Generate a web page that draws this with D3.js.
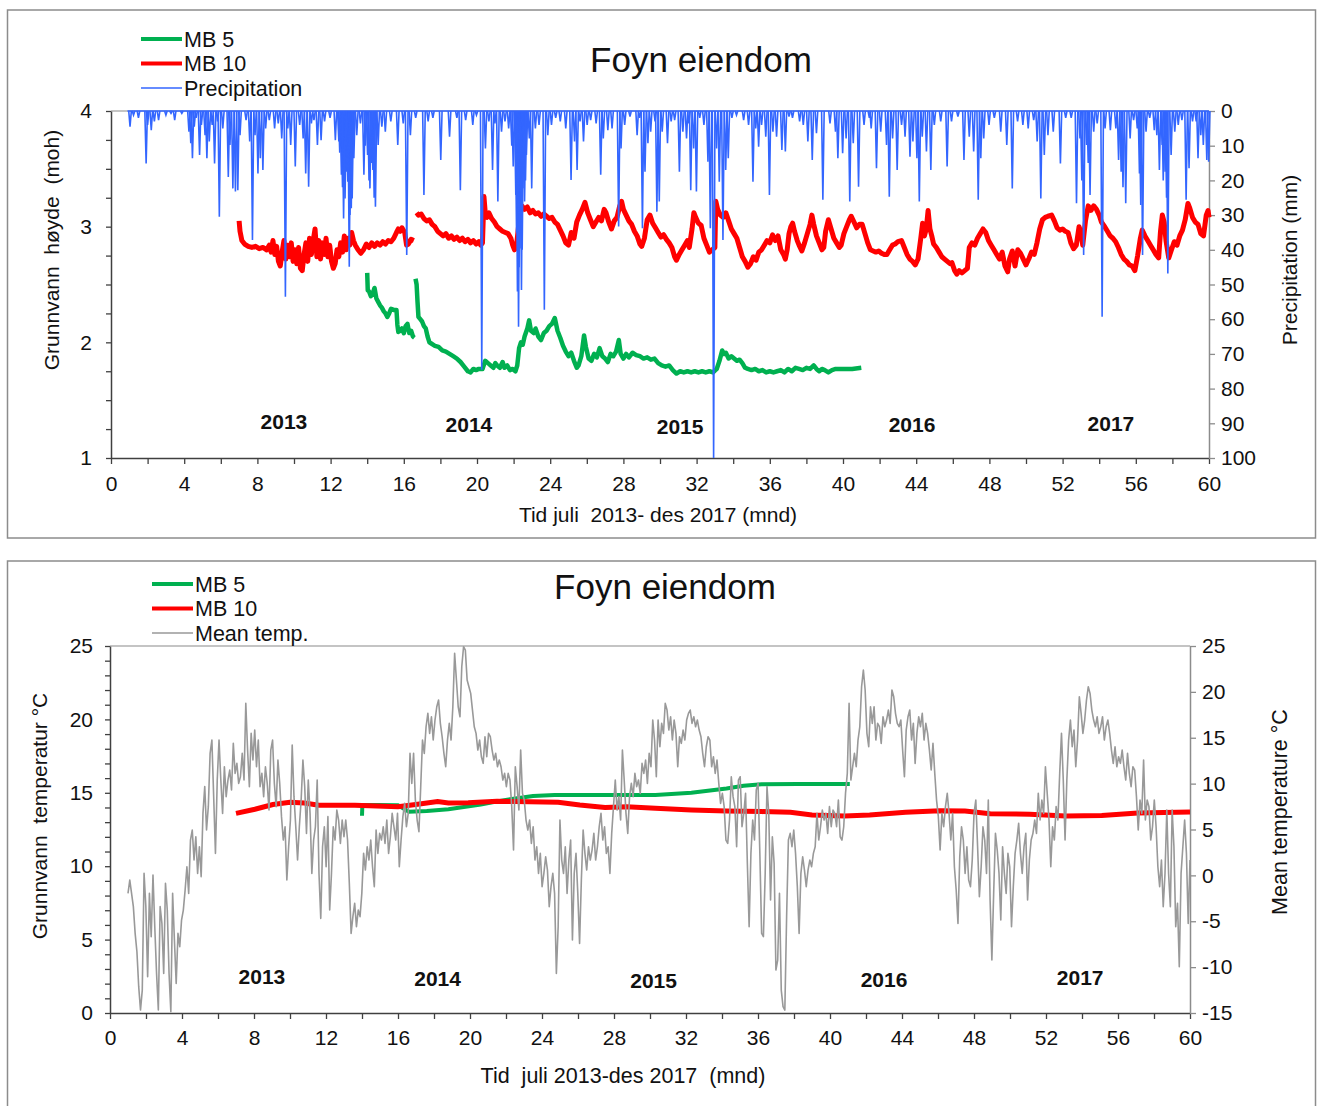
<!DOCTYPE html>
<html>
<head>
<meta charset="utf-8">
<script src="https://cdn.jsdelivr.net/npm/d3@7"></script>
<style>
  body { margin: 0; background: #fff; }
  svg { font-family: "Liberation Sans", Arial, sans-serif; }
</style>
</head>
<body>
<svg id="chart" width="1320" height="1106"></svg>
<script>
"use strict";

// ---- data (months since July 2013) ----

let yearNames = ["2013", "2014", "2015", "2016", "2017"];

// groundwater level MB 10 (moh), logger was moved once so two pieces
let mb10LevelA = [[7.0,3.05],[7.05,2.96],[7.15,2.88],[7.3,2.85],[7.5,2.83],[7.7,2.82],[7.9,2.83],[8.1,2.81],[8.3,2.82],[8.5,2.80],[8.65,2.84],[8.75,2.78],[8.85,2.88],[8.95,2.76],[9.05,2.83],[9.15,2.70],[9.25,2.66],[9.35,2.78],[9.45,2.88],[9.55,2.72],[9.65,2.84],[9.75,2.74],[9.85,2.86],[9.95,2.70],[10.05,2.80],[10.15,2.68],[10.25,2.82],[10.35,2.64],[10.45,2.62],[10.55,2.76],[10.65,2.86],[10.75,2.70],[10.85,2.90],[10.95,2.76],[11.05,2.88],[11.15,2.98],[11.25,2.74],[11.35,2.88],[11.45,2.72],[11.55,2.86],[11.65,2.76],[11.75,2.90],[11.85,2.74],[11.95,2.84],[12.05,2.70],[12.15,2.64],[12.25,2.68],[12.35,2.80],[12.45,2.74],[12.55,2.86],[12.65,2.78],[12.75,2.92],[12.85,2.80],[12.95,2.90],[13.05,2.84],[13.15,2.95],[13.25,2.88],[13.35,2.84],[13.5,2.80],[13.65,2.77],[13.8,2.80],[13.95,2.85],[14.1,2.82],[14.25,2.86],[14.4,2.83],[14.55,2.86],[14.7,2.84],[14.85,2.87],[15.0,2.85],[15.15,2.88],[15.3,2.87],[15.45,2.90],[15.6,2.95],[15.7,2.98],[15.8,2.96],[15.9,2.99],[16.05,2.95],[16.15,2.84],[16.25,2.85],[16.4,2.89],[16.55,2.88]];
let mb10LevelB = [[16.7,3.12],[16.8,3.10],[16.95,3.11],[17.1,3.07],[17.25,3.05],[17.4,3.06],[17.55,3.02],[17.7,3.00],[17.85,2.96],[18.0,2.94],[18.15,2.92],[18.3,2.94],[18.45,2.90],[18.6,2.92],[18.75,2.89],[18.9,2.91],[19.05,2.88],[19.2,2.90],[19.35,2.87],[19.5,2.89],[19.65,2.86],[19.8,2.88],[19.95,2.85],[20.1,2.87],[20.2,2.84],[20.3,2.86],[20.38,3.26],[20.45,3.12],[20.55,3.08],[20.65,3.12],[20.8,3.07],[20.95,3.04],[21.1,3.00],[21.25,2.98],[21.4,2.96],[21.55,2.95],[21.7,2.94],[21.85,2.90],[21.95,2.84],[22.05,2.80],[22.15,2.82],[22.3,3.05],[22.45,3.18],[22.6,3.15],[22.75,3.17],[22.9,3.12],[23.05,3.14],[23.2,3.11],[23.35,3.12],[23.5,3.09],[23.65,3.11],[23.8,3.09],[23.95,3.07],[24.1,3.08],[24.25,3.04],[24.4,3.02],[24.55,2.97],[24.7,2.92],[24.85,2.86],[25.0,2.84],[25.15,2.95],[25.3,2.90],[25.45,3.04],[25.6,3.10],[25.75,3.15],[25.9,3.21],[26.05,3.12],[26.2,3.06],[26.35,3.00],[26.5,3.04],[26.65,3.08],[26.8,3.05],[26.95,3.15],[27.05,3.12],[27.2,3.04],[27.35,2.98],[27.5,3.05],[27.65,3.08],[27.8,3.18],[27.9,3.22],[28.0,3.15],[28.15,3.10],[28.3,3.05],[28.45,3.02],[28.6,2.96],[28.75,2.92],[28.9,2.85],[29.0,2.83],[29.15,2.90],[29.3,3.06],[29.45,3.10],[29.6,3.03],[29.75,2.99],[29.9,2.95],[30.05,2.91],[30.2,2.93],[30.35,2.89],[30.5,2.86],[30.65,2.82],[30.8,2.74],[30.9,2.71],[31.05,2.76],[31.2,2.80],[31.35,2.84],[31.5,2.88],[31.6,2.82],[31.75,2.98],[31.85,3.12],[31.95,3.08],[32.1,3.03],[32.25,3.01],[32.4,2.90],[32.55,2.84],[32.7,2.78],[32.85,2.80],[33.0,2.82],[33.05,3.22],[33.15,3.15],[33.3,3.10],[33.45,3.08],[33.6,3.12],[33.75,3.05],[33.9,2.98],[34.05,2.94],[34.2,2.90],[34.35,2.82],[34.5,2.74],[34.65,2.70],[34.8,2.65],[34.95,2.68],[35.1,2.74],[35.25,2.71],[35.4,2.78],[35.55,2.80],[35.7,2.84],[35.85,2.88],[36.0,2.86],[36.15,2.93],[36.3,2.88],[36.45,2.92],[36.6,2.80],[36.75,2.76],[36.85,2.72],[36.95,2.80],[37.05,2.94],[37.15,3.00],[37.25,3.03],[37.35,2.96],[37.5,2.88],[37.6,2.84],[37.75,2.79],[37.9,2.86],[38.05,2.94],[38.2,3.02],[38.3,3.10],[38.4,3.02],[38.55,2.92],[38.7,2.86],[38.85,2.80],[38.95,2.82],[39.05,2.96],[39.2,3.06],[39.35,2.98],[39.5,2.90],[39.65,2.86],[39.8,2.82],[39.9,2.84],[40.05,2.94],[40.2,3.00],[40.35,3.06],[40.45,3.09],[40.6,3.04],[40.75,2.99],[40.9,3.02],[41.05,3.02],[41.2,2.94],[41.35,2.86],[41.5,2.80],[41.65,2.79],[41.8,2.78],[41.95,2.79],[42.1,2.77],[42.25,2.76],[42.4,2.76],[42.55,2.80],[42.7,2.84],[42.85,2.85],[43.0,2.87],[43.2,2.88],[43.35,2.82],[43.5,2.76],[43.65,2.72],[43.8,2.70],[43.95,2.67],[44.1,2.72],[44.25,2.90],[44.35,3.03],[44.45,2.92],[44.55,2.98],[44.65,3.14],[44.75,2.98],[44.85,2.92],[44.95,2.85],[45.1,2.82],[45.25,2.78],[45.4,2.74],[45.55,2.72],[45.7,2.70],[45.85,2.68],[45.95,2.69],[46.1,2.62],[46.22,2.59],[46.35,2.62],[46.5,2.60],[46.65,2.62],[46.8,2.64],[46.9,2.82],[47.05,2.86],[47.2,2.84],[47.35,2.90],[47.5,2.94],[47.65,2.98],[47.8,2.95],[47.95,2.88],[48.1,2.84],[48.25,2.80],[48.4,2.76],[48.55,2.72],[48.7,2.78],[48.85,2.66],[49.0,2.61],[49.1,2.72],[49.25,2.79],[49.4,2.66],[49.55,2.80],[49.7,2.77],[49.85,2.72],[50.0,2.67],[50.15,2.72],[50.3,2.78],[50.45,2.76],[50.6,2.86],[50.75,2.98],[50.9,3.06],[51.05,3.08],[51.2,3.09],[51.4,3.10],[51.55,3.05],[51.7,2.99],[51.85,2.97],[52.0,2.98],[52.15,2.96],[52.3,2.95],[52.45,2.86],[52.6,2.81],[52.75,2.84],[52.9,3.00],[53.0,2.95],[53.1,2.84],[53.25,3.05],[53.4,3.18],[53.55,3.14],[53.7,3.18],[53.85,3.15],[54.0,3.10],[54.12,3.04],[54.3,3.00],[54.45,2.96],[54.6,2.92],[54.75,2.90],[54.9,2.87],[55.05,2.82],[55.2,2.76],[55.35,2.72],[55.5,2.70],[55.65,2.67],[55.8,2.66],[55.95,2.62],[56.1,2.75],[56.25,2.90],[56.35,2.97],[56.5,2.92],[56.65,2.88],[56.8,2.84],[56.95,2.80],[57.1,2.76],[57.25,2.73],[57.35,2.96],[57.45,3.10],[57.55,3.04],[57.65,2.88],[57.8,2.73],[57.95,2.80],[58.1,2.87],[58.25,2.84],[58.4,2.92],[58.55,2.97],[58.7,3.06],[58.85,3.20],[58.95,3.16],[59.1,3.08],[59.25,3.04],[59.4,3.02],[59.55,2.94],[59.7,2.92],[59.85,3.10],[59.95,3.14],[60.0,3.08]];

// groundwater level MB 5 (moh)
let mb5LevelA = [[14.0,2.60],[14.03,2.45],[14.1,2.44],[14.2,2.40],[14.3,2.42],[14.4,2.47],[14.5,2.38],[14.6,2.35],[14.7,2.32],[14.8,2.30],[14.9,2.27],[15.0,2.25],[15.1,2.22],[15.2,2.25],[15.3,2.29],[15.45,2.28],[15.6,2.28],[15.65,2.15],[15.7,2.09],[15.8,2.10],[15.9,2.12],[16.0,2.08],[16.1,2.14],[16.2,2.16],[16.3,2.08],[16.4,2.10],[16.5,2.05],[16.58,2.04]];
let mb5LevelB = [[16.64,2.55],[16.7,2.50],[16.75,2.35],[16.8,2.22],[16.9,2.20],[17.0,2.18],[17.1,2.14],[17.2,2.12],[17.3,2.05],[17.4,2.00],[17.5,1.99],[17.7,1.97],[17.9,1.96],[18.1,1.93],[18.3,1.92],[18.5,1.90],[18.7,1.88],[18.9,1.86],[19.1,1.83],[19.3,1.79],[19.5,1.75],[19.65,1.74],[19.8,1.77],[19.95,1.76],[20.1,1.77],[20.3,1.77],[20.45,1.84],[20.6,1.82],[20.75,1.80],[20.9,1.78],[21.0,1.82],[21.1,1.80],[21.25,1.78],[21.4,1.83],[21.5,1.78],[21.65,1.80],[21.8,1.76],[21.95,1.77],[22.1,1.75],[22.2,1.80],[22.3,1.95],[22.4,2.00],[22.5,1.98],[22.6,2.05],[22.75,2.12],[22.85,2.19],[22.95,2.10],[23.1,2.08],[23.2,2.12],[23.35,2.05],[23.5,2.02],[23.65,2.08],[23.8,2.10],[23.95,2.14],[24.1,2.16],[24.25,2.21],[24.4,2.10],[24.55,2.04],[24.7,1.97],[24.85,1.92],[25.0,1.88],[25.15,1.91],[25.3,1.84],[25.45,1.78],[25.55,1.80],[25.7,1.88],[25.85,2.06],[25.95,1.96],[26.1,1.86],[26.25,1.84],[26.4,1.90],[26.55,1.87],[26.7,1.95],[26.85,1.88],[27.0,1.86],[27.15,1.83],[27.3,1.90],[27.45,1.88],[27.6,1.92],[27.75,2.02],[27.85,1.90],[28.0,1.86],[28.15,1.90],[28.3,1.87],[28.5,1.91],[28.7,1.89],[28.9,1.88],[29.1,1.86],[29.3,1.87],[29.5,1.85],[29.7,1.86],[29.9,1.82],[30.1,1.80],[30.3,1.79],[30.5,1.80],[30.7,1.76],[30.9,1.73],[31.1,1.75],[31.3,1.74],[31.5,1.75],[31.7,1.74],[31.9,1.75],[32.1,1.74],[32.3,1.75],[32.5,1.74],[32.7,1.75],[32.9,1.74],[33.1,1.77],[33.25,1.84],[33.4,1.93],[33.5,1.90],[33.6,1.91],[33.75,1.86],[33.9,1.88],[34.05,1.86],[34.2,1.84],[34.35,1.85],[34.5,1.82],[34.65,1.78],[34.8,1.77],[35.0,1.76],[35.2,1.77],[35.4,1.75],[35.6,1.76],[35.8,1.74],[36.0,1.75],[36.2,1.74],[36.4,1.75],[36.6,1.76],[36.8,1.74],[37.0,1.77],[37.2,1.75],[37.4,1.78],[37.6,1.77],[37.8,1.76],[38.0,1.78],[38.2,1.77],[38.4,1.80],[38.55,1.77],[38.7,1.75],[38.85,1.77],[39.0,1.76],[39.2,1.74],[39.4,1.76],[39.6,1.77],[39.8,1.77],[40.0,1.77],[40.5,1.77],[41.0,1.78]];

// daily precipitation (mm), only days with rain
let precipitation = [[1.04,4.5],[1.23,1.2],[1.5,2],[1.92,15.1],[2.0,4],[2.2,5.5],[2.37,3],[2.6,2.6],[3.0,1.2],[3.28,0.7],[3.48,2.6],[3.87,0.7],[4.26,6],[4.36,9.3],[4.45,13.6],[4.55,4.5],[4.65,2],[4.84,12.7],[4.94,4],[5.14,7],[5.24,13.6],[5.37,8.8],[5.53,4],[5.66,15.1],[5.82,3],[5.92,30.5],[6.11,5],[6.41,19],[6.5,9.8],[6.66,22.3],[6.8,23.2],[6.93,22.8],[7.05,7],[7.38,2.6],[7.58,8.8],[7.73,37.2],[7.87,7],[8.03,18],[8.16,13.6],[8.3,17],[8.45,5],[8.65,2.6],[8.94,5],[9.14,3.6],[9.33,7.9],[9.53,53.5],[9.66,5],[9.82,9.8],[10.07,16],[10.31,4],[10.5,7.9],[10.64,18],[10.8,21.8],[10.95,3.6],[11.09,2.6],[11.28,9.8],[11.48,8.4],[11.67,3],[11.97,2],[12.26,8.4],[12.45,8.8],[12.5,12],[12.59,18.4],[12.65,22],[12.71,31],[12.79,25.2],[12.87,17.5],[12.94,20.4],[13.02,44.9],[13.06,30],[13.1,18.4],[13.13,28],[13.18,25.2],[13.22,10],[13.27,13.6],[13.43,7],[13.63,3.6],[13.82,18.4],[13.9,10],[14.02,12.7],[14.1,20],[14.15,22.3],[14.25,15],[14.31,17],[14.38,25],[14.45,27.6],[14.6,9.8],[14.8,4.5],[14.99,6],[15.29,3],[15.67,9.8],[15.97,3.6],[16.16,41.5],[16.36,7],[16.65,2],[17.1,24.2],[17.33,3],[17.59,2],[18.02,14.1],[18.5,7.4],[18.9,2],[19.09,22.8],[19.38,2.6],[19.77,4],[19.97,1.2],[20.26,74.6],[20.46,10.8],[20.65,3],[20.85,17],[20.98,3.6],[21.14,26.1],[21.34,6],[21.53,3],[21.73,5],[21.9,10],[21.98,16],[22.12,24.2],[22.16,35],[22.21,52],[22.27,62.2],[22.3,45],[22.35,39.6],[22.39,30],[22.43,51.6],[22.47,40],[22.51,22.3],[22.55,18],[22.6,26.1],[22.65,20],[22.7,12.7],[22.86,7.9],[22.99,22.3],[23.19,5],[23.39,4],[23.68,57.3],[23.87,7],[24.07,4],[24.3,2],[24.55,3],[24.85,5],[25.14,19.9],[25.33,8.8],[25.47,17],[25.63,3],[25.82,8.8],[26.02,4],[26.21,2.6],[26.51,3.6],[26.76,18.4],[26.9,7.9],[27.15,5.5],[27.38,5],[27.74,33.3],[27.87,10.8],[28.07,4],[28.36,1.6],[28.75,7],[28.89,2],[29.04,33.8],[29.18,17.5],[29.34,9.3],[29.49,6],[29.73,3],[29.83,29],[29.96,26.1],[30.12,6],[30.41,9.3],[30.61,3],[30.8,2.6],[31.06,17.5],[31.25,6],[31.45,7.9],[31.58,3.6],[31.68,22.8],[31.84,10.8],[31.99,23.2],[32.17,2],[32.4,4],[32.62,14.6],[32.75,33.8],[32.93,100],[33.09,10.8],[33.24,20.4],[33.44,37.2],[33.59,17],[33.73,13.6],[33.93,2],[34.18,1.2],[34.57,2.6],[34.84,4],[35.08,20.4],[35.23,5],[35.39,10.3],[35.55,4],[35.78,7.4],[35.98,24.2],[36.17,6],[36.37,7.4],[36.66,11.2],[36.85,11.7],[37.05,1.6],[37.24,2],[37.63,3],[37.83,4],[38.08,8.8],[38.32,14.1],[38.55,6.4],[38.9,25.6],[39.29,3.6],[39.59,6],[39.72,13.6],[39.98,12.2],[40.17,7.9],[40.37,26.1],[40.56,9.3],[40.85,21.8],[41.15,4],[41.44,2],[41.54,5],[41.83,16.5],[42.06,6],[42.38,9.8],[42.53,24.7],[42.71,7.9],[42.96,17],[43.2,4],[43.39,7.4],[43.66,13.2],[43.82,8.8],[44.04,13.6],[44.17,26.1],[44.33,7.4],[44.56,11.7],[44.8,17],[44.99,4],[45.34,3],[45.69,16],[45.93,3],[46.28,1.6],[46.61,14.1],[46.9,7.4],[47.14,11.7],[47.39,25.6],[47.53,13.6],[47.69,7.9],[47.98,4],[48.27,2],[48.62,6],[48.95,9.8],[49.25,22.3],[49.54,3],[49.83,4],[50.12,5],[50.42,2.6],[50.61,8.8],[50.81,25.2],[51.0,12.7],[51.2,7],[51.49,6],[51.88,15.1],[52.17,2],[52.47,2],[52.76,26.6],[52.95,7.9],[53.05,20],[53.15,41.5],[53.31,9.8],[53.4,15],[53.5,24.2],[53.7,6],[53.89,3.6],[54.16,59.3],[54.32,5],[54.61,5.5],[54.91,5],[55.06,14.1],[55.2,17.5],[55.3,22],[55.45,26.6],[55.69,7.9],[55.88,2.6],[56.08,5],[56.2,18],[56.27,27.1],[56.37,41.5],[56.56,6],[56.76,2],[57.01,5.5],[57.15,7],[57.29,17],[57.44,9.8],[57.5,20],[57.6,17.5],[57.68,25],[57.75,46.8],[57.93,12.7],[58.13,6],[58.32,4],[58.52,2.6],[58.75,25.6],[58.91,16.5],[59.1,3],[59.3,3],[59.4,13.6],[59.55,7],[59.69,9.8],[59.88,14.1],[59.98,14.6]];

// groundwater temperature (deg C)
let mb10Temp = [[7.0,13.6],[8.05,13.88],[9.05,14.2],[10.0,14.35],[10.8,14.3],[11.6,14.15],[13.6,14.15],[16.0,14.05],[17.2,14.24],[18.2,14.4],[18.8,14.3],[19.9,14.33],[21.5,14.42],[22.5,14.4],[24.9,14.35],[26.1,14.17],[27.5,14.0],[28.7,14.05],[30.3,13.95],[32.3,13.83],[34.25,13.76],[36.2,13.72],[37.8,13.67],[39.0,13.49],[40.8,13.42],[42.2,13.49],[44.2,13.67],[46.1,13.78],[47.5,13.76],[48.9,13.58],[51.1,13.54],[53.1,13.42],[55.1,13.45],[57.1,13.62],[60.0,13.7]];
let mb5Temp = [[14.0,13.44],[14.02,14.17],[14.8,14.17],[16.0,14.15],[16.6,13.71],[17.6,13.76],[18.8,13.88],[20.6,14.2],[21.9,14.5],[23.5,14.78],[24.7,14.85],[27.5,14.85],[30.3,14.85],[32.3,15.0],[34.25,15.3],[35.2,15.48],[36.2,15.58],[38.2,15.6],[41.1,15.6]];

// daily mean air temperature (deg C), month 1 to 60
let meanTempFrom = 1.0, meanTempTo = 60.0;
let meanTemp = [-1.96,-0.51,-1.96,-3.41,-6.32,-8.32,-12.13,-14.68,-12.5,0.22,-3.41,-11.04,-1.96,-6.68,0.04,-5.59,-10.68,-14.68,-3.41,-5.23,-10.68,-0.87,-3.78,-10.68,-14.86,-1.96,-7.05,-11.77,-6.32,-7.77,-4.87,-3.78,-1.6,0.94,-1.96,3.85,4.94,1.67,4.21,0.22,3.12,-0.14,6.76,9.67,4.94,7.49,13.3,14.75,8.58,2.4,10.39,14.75,10.39,6.76,11.84,8.58,10.39,11.48,9.3,14.39,11.12,12.21,10.03,10.75,13.3,10.39,18.75,13.66,9.67,15.48,12.57,15.84,11.84,14.75,9.67,11.12,8.58,11.84,10.03,7.12,13.66,14.75,10.03,7.49,12.57,10.03,6.4,3.85,5.3,-0.51,3.12,6.03,14.21,8.58,5.3,1.67,5.3,8.21,12.57,9.67,4.58,10.39,6.76,0.22,3.85,5.3,10.39,0.22,-4.69,3.12,5.3,0.94,6.4,-3.78,0.22,5.3,3.85,7.12,6.03,3.49,6.03,4.21,6.03,3.85,-0.87,-6.32,-4.5,-3.05,-5.59,-3.78,-4.5,-1.96,2.4,0.58,3.12,1.67,3.85,0.94,-1.23,4.94,2.4,4.58,3.85,5.3,3.49,6.03,2.4,4.21,6.76,5.3,3.85,6.76,0.94,3.85,6.4,7.85,5.3,6.76,13.3,10.03,13.3,8.21,6.03,4.76,9.67,14.75,13.3,16.2,17.66,15.48,17.29,14.75,16.93,18.38,19.11,16.57,15.11,13.3,11.84,14.75,16.57,14.75,18.38,24.2,21.29,18.38,17.29,22.74,24.92,24.56,21.29,20.56,19.84,18.02,16.2,15.48,13.66,14.75,12.93,12.21,15.11,12.93,15.48,15.11,13.66,12.57,13.3,11.84,12.57,11.84,10.39,11.12,9.67,11.12,10.39,7.49,2.76,11.84,9.67,7.12,13.66,8.94,8.21,6.03,4.94,6.03,3.49,5.3,1.67,3.12,0.22,2.4,-1.23,0.22,2.03,0.58,-3.41,-1.23,0.22,-1.96,-10.68,-5.59,6.03,1.67,0.22,3.12,-1.96,1.67,3.85,-7.05,0.22,2.4,-1.96,-7.41,-0.51,4.94,2.4,0.58,3.12,1.67,2.76,4.58,1.67,3.12,5.3,6.76,3.85,5.3,2.4,3.12,0.22,4.58,7.49,10.39,7.12,8.58,6.03,13.66,10.39,6.76,4.58,8.58,10.03,8.58,11.12,9.67,10.39,8.94,12.21,11.12,12.57,10.03,13.3,11.84,16.93,
  14.75,10.75,16.93,14.02,16.57,15.48,18.75,18.02,15.84,17.29,14.75,16.93,15.48,11.84,15.11,14.39,15.84,14.75,16.93,17.66,18.02,16.57,17.29,16.2,16.93,15.84,15.11,13.3,11.84,14.02,15.11,14.75,11.84,12.93,11.12,12.57,10.03,7.85,8.94,7.49,3.85,3.49,6.03,10.75,8.58,7.49,3.12,10.39,10.75,5.3,6.76,8.94,1.31,-5.59,2.4,6.03,3.85,9.3,10.03,2.4,-6.32,-6.68,0.22,9.67,6.76,-2.69,4.21,1.31,-10.32,-9.23,-1.96,-12.5,-14.31,-14.68,-4.5,3.85,4.58,3.12,4.94,2.4,-1.23,-6.32,0.22,2.03,0.58,-1.23,0.58,1.67,0.94,2.4,3.12,6.76,3.85,5.3,7.12,6.03,6.76,4.58,7.49,5.3,7.12,6.76,5.3,8.21,4.21,3.85,5.3,8.94,11.12,18.75,10.39,11.84,13.3,11.84,14.75,16.2,20.56,22.38,20.2,15.48,14.02,18.38,16.57,18.38,14.75,16.57,16.2,14.39,17.29,16.2,16.93,18.02,16.57,20.2,19.47,17.66,16.57,16.2,16.93,13.66,10.75,15.84,17.29,18.02,14.75,16.57,12.21,15.48,17.29,16.2,17.66,14.75,16.57,15.48,13.66,11.48,14.39,11.12,8.21,6.4,2.76,6.76,5.3,7.49,8.94,6.76,3.85,6.76,0.94,-1.6,-5.23,2.03,5.3,3.85,0.22,3.12,-0.51,-1.23,1.67,6.76,8.21,3.12,-2.32,0.94,5.3,3.85,0.22,8.21,-2.69,-9.23,-1.96,4.58,2.76,0.22,-4.87,3.12,0.22,-1.96,2.4,0.94,-5.59,-1.23,2.4,3.85,5.67,2.4,0.22,3.12,4.58,-2.69,1.67,3.85,4.58,6.03,4.58,8.94,6.03,8.21,6.76,11.84,8.94,6.03,0.94,5.3,3.85,7.49,6.03,11.12,15.48,10.39,3.85,10.39,14.75,16.93,14.02,15.84,11.84,14.75,19.47,17.66,15.48,16.93,19.11,20.56,19.84,18.02,16.93,16.2,17.29,15.48,16.2,17.29,14.75,16.2,16.93,15.48,13.66,12.21,14.02,11.84,12.93,12.21,13.66,11.84,10.39,13.3,11.12,9.67,11.84,11.48,8.58,4.94,8.21,6.76,12.57,6.03,8.21,7.49,3.85,5.3,8.21,5.3,0.94,-1.23,1.67,-3.41,0.22,7.12,0.22,-3.41,7.12,3.12,-5.59,-3.05,-9.95,0.22,3.12,6.03,2.4,-5.23,1.67];

// ---- layout ----

let svg = d3.select("#chart");

let colors = {
  mb5: "#00b050",
  mb10: "#ff0000",
  rain: "#3366ff",
  air: "#999999",
  frame: "#8c8c8c",
  axis: "#404040",
  axisRight: "#8c8c8c"
};

drawLevelPanel();
drawTempPanel();

function drawFrame(y0, y1) {
  svg.append("rect")
    .attr("x", 7.5).attr("y", y0)
    .attr("width", 1308).attr("height", y1 - y0)
    .attr("fill", "none")
    .attr("stroke", colors.frame)
    .attr("stroke-width", 1.5);
}

function styleAxis(g, color) {
  g.select(".domain").attr("stroke", color).attr("stroke-width", 1.5);
  g.selectAll(".tick line").attr("stroke", color).attr("stroke-width", 1.3);
  g.selectAll(".tick text")
    .attr("fill", "#111")
    .style("font-size", "21px");
}

function legend(items, x, y) {
  let g = svg.append("g").attr("transform", `translate(${x},${y})`);
  items.forEach((d, i) => {
    g.append("line")
      .attr("x1", 0).attr("x2", 41)
      .attr("y1", i * 24.5).attr("y2", i * 24.5)
      .attr("stroke", d.color)
      .attr("stroke-width", d.width);
    g.append("text")
      .attr("x", 43).attr("y", i * 24.5 + 7.5)
      .style("font-size", "21.5px")
      .attr("fill", "#111")
      .text(d.label);
  });
}

function title(x, y) {
  svg.append("text")
    .attr("x", x).attr("y", y)
    .attr("text-anchor", "middle")
    .style("font-size", "35px")
    .attr("fill", "#111")
    .text("Foyn eiendom");
}

function axisTitle(text, x, y, rotate, size) {
  svg.append("text")
    .attr("transform", `translate(${x},${y})` + (rotate ? " rotate(-90)" : ""))
    .attr("text-anchor", "middle")
    .style("font-size", (size || 21) + "px")
    .style("white-space", "pre")
    .attr("fill", "#111")
    .text(text);
}

function drawLevelPanel() {
  drawFrame(10, 538);

  let x = d3.scaleLinear().domain([0, 60]).range([111, 1209]);
  let y = d3.scaleLinear().domain([1, 4]).range([458, 111]);
  let yRain = d3.scaleLinear().domain([0, 100]).range([111, 458]);

  // gray border along the top of the plot
  svg.append("line")
    .attr("x1", x(0)).attr("x2", x(60))
    .attr("y1", y(4)).attr("y2", y(4))
    .attr("stroke", "#b0b0b0").attr("stroke-width", 1.5);

  let gx = svg.append("g")
    .attr("transform", `translate(0,${y(1)})`)
    .call(d3.axisBottom(x)
      .tickValues(d3.range(0, 61, 2))
      .tickSize(6).tickSizeOuter(0).tickPadding(12)
      .tickFormat(d => d % 4 === 0 ? d : ""));
  styleAxis(gx, colors.axis);

  let gy = svg.append("g")
    .attr("transform", `translate(${x(0)},0)`)
    .call(d3.axisLeft(y)
      .tickValues(d3.range(1, 4.01, 0.25))
      .tickSize(5).tickSizeOuter(0).tickPadding(14)
      .tickFormat(d => Number.isInteger(d) ? d : ""));
  styleAxis(gy, colors.axis);

  let gr = svg.append("g")
    .attr("transform", `translate(${x(60)},0)`)
    .call(d3.axisRight(yRain)
      .tickValues(d3.range(0, 101, 10))
      .tickSize(6).tickSizeOuter(0).tickPadding(6));
  styleAxis(gr, colors.axisRight);

  let line = d3.line().x(d => x(d[0])).y(d => y(d[1]));

  [mb5LevelA, mb5LevelB].forEach(part => {
    svg.append("path").datum(part)
      .attr("d", line)
      .attr("fill", "none")
      .attr("stroke", colors.mb5)
      .attr("stroke-width", 4.5)
      .attr("stroke-linejoin", "round");
  });

  [mb10LevelA, mb10LevelB].forEach(part => {
    svg.append("path").datum(part)
      .attr("d", line)
      .attr("fill", "none")
      .attr("stroke", colors.mb10)
      .attr("stroke-width", 5)
      .attr("stroke-linejoin", "round");
  });

  // precipitation hangs from the top axis
  let rain = svg.append("g")
    .attr("fill", "none")
    .attr("stroke", colors.rain)
    .attr("stroke-width", 1.6);

  rain.append("line")
    .attr("x1", x(0.9)).attr("x2", x(60))
    .attr("y1", yRain(0)).attr("y2", yRain(0));

  rain.selectAll("path")
    .data(precipitation)
    .enter().append("path")
    .attr("d", d => {
      let cx = x(d[0]);
      return `M${cx - 1.3},${yRain(0)}L${cx},${yRain(d[1])}L${cx + 1.3},${yRain(0)}`;
    });

  // year labels
  let yearAt = [[9.45, 1.25], [19.56, 1.225], [31.1, 1.21], [43.77, 1.225], [54.64, 1.23]];
  svg.selectAll(".yearTop")
    .data(yearNames)
    .enter().append("text")
    .attr("class", "yearTop")
    .attr("x", (d, i) => x(yearAt[i][0]))
    .attr("y", (d, i) => y(yearAt[i][1]))
    .attr("text-anchor", "middle")
    .style("font-size", "21px")
    .style("font-weight", "bold")
    .attr("fill", "#111")
    .text(d => d);

  title(701, 72);
  legend([
    { label: "MB 5", color: colors.mb5, width: 4 },
    { label: "MB 10", color: colors.mb10, width: 4 },
    { label: "Precipitation", color: colors.rain, width: 1.5 }
  ], 141, 39);

  axisTitle("Grunnvann  høyde  (moh)", 59, 250, true);
  axisTitle("Precipitation (mm)", 1297, 260, true);
  axisTitle("Tid juli  2013- des 2017 (mnd)", 658, 522, false);
}

function drawTempPanel() {
  drawFrame(561, 1120);

  let x = d3.scaleLinear().domain([0, 60]).range([110, 1190]);
  let y = d3.scaleLinear().domain([0, 25]).range([1013, 646]);
  let yAir = d3.scaleLinear().domain([-15, 25]).range([1013, 646]);

  svg.append("line")
    .attr("x1", x(0)).attr("x2", x(60))
    .attr("y1", y(25)).attr("y2", y(25))
    .attr("stroke", "#b0b0b0").attr("stroke-width", 1.5);

  let gx = svg.append("g")
    .attr("transform", `translate(0,${y(0)})`)
    .call(d3.axisBottom(x)
      .tickValues(d3.range(0, 61, 2))
      .tickSize(6).tickSizeOuter(0).tickPadding(11)
      .tickFormat(d => d % 4 === 0 ? d : ""));
  styleAxis(gx, colors.axis);

  let gy = svg.append("g")
    .attr("transform", `translate(${x(0)},0)`)
    .call(d3.axisLeft(y)
      .tickValues(d3.range(0, 26, 1))
      .tickSize(5).tickSizeOuter(0).tickPadding(12)
      .tickFormat(d => d % 5 === 0 ? d : ""));
  styleAxis(gy, colors.axis);

  // plain hyphen for negatives, as in the original
  let gr = svg.append("g")
    .attr("transform", `translate(${x(60)},0)`)
    .call(d3.axisRight(yAir)
      .tickValues(d3.range(-15, 26, 5))
      .tickSize(6).tickSizeOuter(0).tickPadding(6)
      .tickFormat(d => String(d)));
  styleAxis(gr, colors.axisRight);

  let line = d3.line().x(d => x(d[0])).y(d => y(d[1]));

  svg.append("path").datum(mb5Temp)
    .attr("d", line)
    .attr("fill", "none")
    .attr("stroke", colors.mb5)
    .attr("stroke-width", 4);

  svg.append("path").datum(mb10Temp)
    .attr("d", line)
    .attr("fill", "none")
    .attr("stroke", colors.mb10)
    .attr("stroke-width", 5);

  // daily air temperature on the right-hand axis
  let step = (meanTempTo - meanTempFrom) / (meanTemp.length - 1);
  let airLine = d3.line()
    .x((d, i) => x(meanTempFrom + i * step))
    .y(d => yAir(d));

  svg.append("path").datum(meanTemp)
    .attr("d", airLine)
    .attr("fill", "none")
    .attr("stroke", colors.air)
    .attr("stroke-width", 1.6)
    .attr("stroke-linejoin", "round");

  let yearAt = [[8.44, 1.98], [18.2, 1.84], [30.2, 1.7], [43.0, 1.77], [53.9, 1.91]];
  svg.selectAll(".yearBottom")
    .data(yearNames)
    .enter().append("text")
    .attr("class", "yearBottom")
    .attr("x", (d, i) => x(yearAt[i][0]))
    .attr("y", (d, i) => y(yearAt[i][1]))
    .attr("text-anchor", "middle")
    .style("font-size", "21px")
    .style("font-weight", "bold")
    .attr("fill", "#111")
    .text(d => d);

  title(665, 599);
  legend([
    { label: "MB 5", color: colors.mb5, width: 4 },
    { label: "MB 10", color: colors.mb10, width: 4 },
    { label: "Mean temp.", color: colors.air, width: 1.5 }
  ], 152, 584);

  axisTitle("Grunnvann  temperatur °C", 47, 816, true);
  axisTitle("Mean temperature °C", 1287, 812, true, 21.5);
  axisTitle("Tid  juli 2013-des 2017  (mnd)", 623, 1083, false, 21.5);
}
</script>
</body>
</html>
